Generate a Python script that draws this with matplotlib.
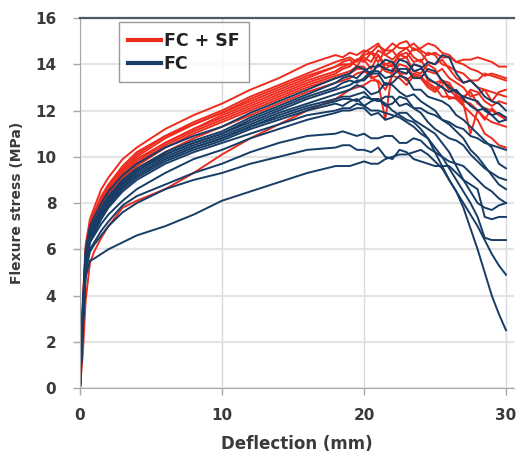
#!/usr/bin/env python3
# -*- coding: utf-8 -*-

import numpy as np
import matplotlib
matplotlib.use('Agg')
import matplotlib.pyplot as plt

# deflection points (mm), shared by every curve
deflection = [0, 0.2, 0.4, 0.7, 1, 1.5, 2, 3, 4, 6, 8, 10, 12, 14, 16,
              18, 18.5, 19, 19.5, 20, 20.5, 21, 21.5, 22, 22.5, 23, 23.5, 24, 24.5,
              25, 25.5, 26, 26.5, 27, 27.5, 28, 28.5, 29, 29.5, 30]

# FC + SF specimens, flexure stress (MPa)
fcsf_1 = [0, 3.8, 6.2, 7.3, 7.8, 8.6, 9.1, 9.9, 10.4, 11.2, 11.8, 12.3, 12.9, 13.4, 14.0,
          14.4, 14.3, 14.5, 14.4, 14.6, 14.5, 14.8, 14.6, 14.9, 14.7, 14.7, 14.9, 14.6, 14.4, 14.5, 14.3, 14.3, 14.1, 14.2, 14.2, 14.3, 14.2, 14.1, 13.9, 13.9]
fcsf_2 = [0, 3.5, 6.0, 7.1, 7.6, 8.3, 8.8, 9.6, 10.2, 10.9, 11.5, 12.0, 12.6, 13.1, 13.6,
          14.1, 14.2, 14.3, 14.1, 14.5, 14.7, 14.9, 14.4, 14.6, 14.9, 15.0, 14.6, 14.7, 14.9, 14.8, 14.5, 14.4, 14.1, 14.0, 13.8, 13.7, 13.5, 13.6, 13.5, 13.4]
fcsf_3 = [0, 3.3, 5.8, 6.9, 7.4, 8.1, 8.6, 9.4, 10.0, 10.8, 11.4, 11.9, 12.4, 12.9, 13.4,
          13.9, 14.1, 14.2, 13.9, 14.4, 14.5, 14.1, 14.6, 14.6, 14.2, 14.3, 14.7, 14.5, 14.1, 14.0, 14.2, 13.8, 13.4, 13.2, 13.3, 13.0, 12.9, 12.8, 12.7, 12.6]
fcsf_4 = [0, 3.2, 5.6, 6.8, 7.3, 8.0, 8.5, 9.2, 9.8, 10.6, 11.2, 11.7, 12.2, 12.7, 13.2,
          13.6, 13.8, 13.9, 14.2, 14.2, 13.8, 14.4, 14.0, 13.9, 14.4, 14.3, 13.7, 13.6, 14.0, 13.8, 13.2, 13.1, 12.8, 12.6, 12.8, 12.3, 12.1, 12.0, 11.8, 11.7]
fcsf_5 = [0, 3.0, 5.5, 6.7, 7.2, 7.9, 8.4, 9.1, 9.7, 10.5, 11.1, 11.6, 12.1, 12.6, 13.1,
          13.5, 13.6, 13.7, 13.9, 13.9, 13.4, 13.5, 14.0, 14.1, 13.6, 13.6, 14.0, 13.9, 13.3, 13.2, 13.3, 12.9, 12.6, 12.5, 12.9, 12.8, 12.4, 12.2, 12.4, 12.3]
fcsf_6 = [0, 2.8, 5.3, 6.5, 7.1, 7.8, 8.3, 9.0, 9.6, 10.4, 11.0, 11.5, 12.0, 12.5, 13.0,
          13.4, 13.5, 13.6, 13.8, 13.8, 13.5, 14.0, 13.7, 13.6, 14.0, 13.9, 13.5, 13.4, 13.2, 13.0, 12.6, 12.6, 12.5, 12.2, 11.9, 11.6, 11.0, 10.8, 10.5, 10.4]
fcsf_7 = [0, 2.6, 5.2, 6.4, 7.0, 7.6, 8.1, 8.8, 9.4, 10.2, 10.8, 11.3, 11.8, 12.3, 12.8,
          13.2, 13.3, 13.4, 13.6, 13.7, 13.5, 13.2, 11.6, 13.8, 13.6, 13.3, 13.6, 13.5, 13.1, 12.9, 13.3, 13.2, 12.7, 12.4, 12.3, 12.0, 11.7, 11.5, 11.4, 11.3]
fcsf_8 = [0, 1.5, 3.8, 5.4, 5.9, 6.5, 7.0, 7.8, 8.1, 8.6, 9.3, 10.1, 10.8, 11.4, 12.0,
          12.5, 12.7, 12.9, 13.0, 13.1, 13.3, 13.3, 12.9, 13.5, 13.4, 13.1, 13.5, 13.4, 13.0, 12.8, 13.1, 12.5, 12.6, 12.3, 11.0, 12.0, 11.6, 12.1, 11.8, 11.6]
fcsf_9 = [0, 3.4, 5.9, 7.0, 7.5, 8.2, 8.7, 9.5, 10.1, 10.9, 11.4, 11.9, 12.5, 13.0, 13.5,
          13.9, 14.0, 14.0, 14.2, 14.3, 14.1, 14.6, 14.4, 14.2, 14.5, 14.7, 14.3, 14.1, 14.5, 14.4, 14.0, 13.9, 13.7, 13.6, 13.3, 13.3, 13.6, 13.5, 13.4, 13.3]
fcsf_10 = [0, 3.1, 5.7, 6.8, 7.3, 8.0, 8.5, 9.3, 9.9, 10.6, 11.2, 11.8, 12.3, 12.8, 13.3,
           13.7, 13.9, 14.0, 14.2, 14.1, 14.5, 14.4, 13.8, 14.0, 14.4, 14.5, 14.1, 14.2, 13.7, 13.6, 13.8, 13.4, 13.2, 13.0, 12.6, 12.7, 12.9, 12.4, 12.8, 12.9]

# FC specimens, flexure stress (MPa)
fc_1 = [0, 3.6, 6.0, 7.0, 7.4, 8.0, 8.5, 9.2, 9.7, 10.4, 10.9, 11.3, 11.9, 12.4, 12.9,
        13.4, 13.5, 13.6, 13.9, 13.8, 13.6, 14.0, 13.8, 13.7, 14.2, 14.1, 13.7, 13.8, 14.1, 14.0, 14.4, 14.3, 13.6, 13.2, 13.3, 13.0, 12.6, 12.4, 12.3, 12.0]
fc_2 = [0, 3.4, 5.8, 6.8, 7.2, 7.8, 8.3, 9.0, 9.5, 10.2, 10.7, 11.1, 11.7, 12.2, 12.7,
        13.2, 13.4, 13.5, 13.4, 13.7, 13.9, 13.9, 14.2, 14.1, 13.7, 13.6, 14.0, 13.9, 13.4, 13.2, 13.0, 12.8, 12.9, 12.5, 12.2, 12.0, 12.1, 11.8, 11.5, 11.6]
fc_3 = [0, 3.3, 5.7, 6.7, 7.1, 7.7, 8.2, 8.9, 9.4, 10.1, 10.6, 11.0, 11.5, 12.0, 12.5,
        12.9, 13.0, 13.1, 13.3, 13.3, 13.6, 13.6, 13.1, 13.2, 13.5, 13.4, 12.9, 12.9, 12.6, 12.5, 12.4, 12.2, 11.8, 11.6, 11.3, 11.0, 10.7, 10.4, 9.7, 9.5]
fc_4 = [0, 3.2, 5.6, 6.6, 7.0, 7.6, 8.1, 8.8, 9.3, 10.0, 10.5, 10.9, 11.4, 11.9, 12.3,
        12.7, 12.8, 12.9, 13.1, 13.0, 12.7, 12.8, 13.2, 13.1, 12.8, 12.6, 12.7, 12.4, 12.2, 12.0, 11.6, 11.4, 11.1, 10.8, 10.3, 10.0, 9.6, 9.2, 8.8, 8.6]
fc_5 = [0, 3.0, 5.5, 6.5, 6.9, 7.5, 8.0, 8.7, 9.2, 9.9, 10.4, 10.8, 11.3, 11.8, 12.2,
        12.5, 12.6, 12.6, 12.7, 12.8, 12.5, 12.5, 12.2, 12.3, 12.6, 12.5, 12.1, 11.9, 11.5, 11.2, 11.0, 10.8, 10.7, 10.5, 10.1, 9.8, 9.5, 9.3, 9.1, 9.0]
fc_6 = [0, 2.9, 5.4, 6.4, 6.8, 7.4, 7.9, 8.6, 9.1, 9.8, 10.3, 10.7, 11.2, 11.6, 12.0,
        12.3, 12.2, 12.4, 12.5, 12.2, 12.4, 12.5, 12.3, 12.0, 11.8, 11.6, 11.5, 11.2, 10.8, 10.2, 9.6, 9.0, 8.5, 8.0, 7.5, 7.0, 6.4, 5.8, 5.3, 4.9]
fc_7 = [0, 2.8, 5.3, 6.3, 6.7, 7.3, 7.8, 8.5, 9.0, 9.7, 10.2, 10.6, 11.0, 11.4, 11.8,
        12.0, 12.1, 12.1, 12.3, 12.2, 12.0, 12.0, 11.9, 11.8, 11.7, 11.5, 11.3, 11.0, 10.8, 10.4, 10.0, 9.5, 9.0, 8.5, 8.0, 7.4, 6.5, 6.4, 6.4, 6.4]
fc_8 = [0, 3.1, 5.6, 6.6, 7.0, 7.6, 8.0, 8.7, 9.2, 9.9, 10.4, 10.8, 11.3, 11.7, 12.1,
        12.4, 12.5, 12.5, 12.4, 12.6, 12.5, 12.4, 12.6, 12.6, 12.2, 12.3, 12.1, 12.1, 11.9, 11.8, 11.6, 11.5, 11.3, 11.2, 10.9, 10.8, 10.6, 10.5, 10.4, 10.3]
fc_9 = [0, 2.7, 5.2, 6.0, 6.3, 6.8, 7.2, 7.9, 8.3, 8.8, 9.3, 9.7, 10.2, 10.6, 10.9,
        11.0, 11.1, 11.0, 10.9, 11.0, 10.8, 10.8, 10.9, 10.9, 10.6, 10.6, 10.8, 10.7, 10.4, 10.2, 10.0, 9.8, 9.7, 9.6, 9.3, 9.0, 8.7, 8.5, 8.2, 8.0]
fc_10 = [0, 2.6, 5.0, 5.9, 6.2, 6.6, 7.0, 7.6, 8.0, 8.6, 9.0, 9.3, 9.7, 10.0, 10.3,
         10.4, 10.5, 10.5, 10.3, 10.3, 10.2, 10.4, 10.0, 9.9, 10.3, 10.2, 9.9, 9.8, 9.7, 9.6, 9.6, 9.6, 9.3, 9.0, 8.8, 8.6, 7.4, 7.3, 7.4, 7.4]
fc_11 = [0, 2.5, 4.8, 5.5, 5.6, 5.8, 6.0, 6.3, 6.6, 7.0, 7.5, 8.1, 8.5, 8.9, 9.3,
         9.6, 9.6, 9.6, 9.7, 9.8, 9.7, 9.7, 9.9, 10.0, 10.1, 10.1, 10.2, 10.3, 10.1, 9.8, 9.5, 9.0, 8.5, 7.8, 6.9, 6.0, 5.0, 4.0, 3.2, 2.5]
fc_12 = [0, 3.0, 5.4, 6.3, 6.6, 7.1, 7.5, 8.1, 8.6, 9.3, 9.9, 10.3, 10.8, 11.2, 11.6,
         11.9, 12.0, 12.0, 12.1, 12.1, 11.8, 11.9, 11.6, 11.7, 11.9, 11.9, 11.6, 11.4, 11.2, 11.0, 10.6, 10.2, 9.6, 9.0, 8.5, 8.0, 7.8, 7.7, 7.9, 8.0]
fc_13 = [0, 3.2, 5.7, 6.7, 7.1, 7.7, 8.2, 8.9, 9.4, 10.1, 10.6, 11.0, 11.6, 12.1, 12.6,
         13.0, 13.2, 13.3, 13.2, 13.4, 13.7, 13.7, 13.4, 13.5, 13.8, 13.8, 13.4, 13.4, 13.8, 13.7, 13.3, 13.0, 12.8, 12.6, 12.5, 12.4, 12.0, 11.8, 11.9, 11.7]

fcsf_curves = [fcsf_1, fcsf_2, fcsf_3, fcsf_4, fcsf_5, fcsf_6, fcsf_7, fcsf_8, fcsf_9, fcsf_10]
fc_curves = [fc_1, fc_2, fc_3, fc_4, fc_5, fc_6, fc_7, fc_8, fc_9, fc_10, fc_11, fc_12, fc_13]

RED = '#ee2b1d'
BLUE = '#173d66'
TXT = '#3a3a3a'

fig = plt.figure(figsize=(5.18, 4.62), dpi=100)
# x=0 at ~80px, x=30 at ~506px
ax = fig.add_axes([0.1544, 0.160, 0.8375, 0.801])

for i, y in enumerate(fcsf_curves):
    ax.plot(deflection, y, color=RED, lw=1.4, label='FC + SF' if i == 0 else None)
for i, y in enumerate(fc_curves):
    ax.plot(deflection, y, color=BLUE, lw=1.4, label='FC' if i == 0 else None)

ax.set_xlim(0, 30.55)
ax.set_ylim(0, 16)
ax.set_xticks([0, 10, 20, 30])
ax.set_yticks(np.arange(0, 17, 2))

ax.grid(axis='y', color='#e4e4e4', lw=1.6)
ax.grid(axis='x', color='#d6dae2', lw=1.0)
ax.set_axisbelow(True)

ax.spines['right'].set_visible(False)
ax.spines['left'].set_color('#a8a8a8')
ax.spines['bottom'].set_color('#a8a8a8')
ax.spines['top'].set_color('#4f5960')
ax.spines['top'].set_linewidth(1.6)

ax.tick_params(axis='both', colors='#a8a8a8', labelcolor=TXT, labelsize=11, length=5, width=1)
ax.tick_params(axis='y', pad=12)
ax.tick_params(axis='x', pad=9)
for lab in ax.get_xticklabels() + ax.get_yticklabels():
    lab.set_fontweight('bold')

ax.set_xlabel('Deflection (mm)', fontsize=12, fontweight='bold', color=TXT, labelpad=9)
ax.set_ylabel('Flexure stress (MPa)', fontsize=10, fontweight='bold', color=TXT, labelpad=8)

leg = ax.legend(loc='upper left', bbox_to_anchor=(0.089, 0.989), borderaxespad=0,
                frameon=True, fancybox=False, handlelength=1.9, handletextpad=0.15,
                borderpad=0.55, labelspacing=0.3, prop={'weight': 'bold', 'size': 12.5})
leg.get_frame().set_edgecolor('#808080')
leg.get_frame().set_linewidth(1.0)
for t in leg.get_texts():
    t.set_color('#222222')
for h in leg.get_lines():
    h.set_linewidth(3)

fig.savefig('out.png', dpi=100)
